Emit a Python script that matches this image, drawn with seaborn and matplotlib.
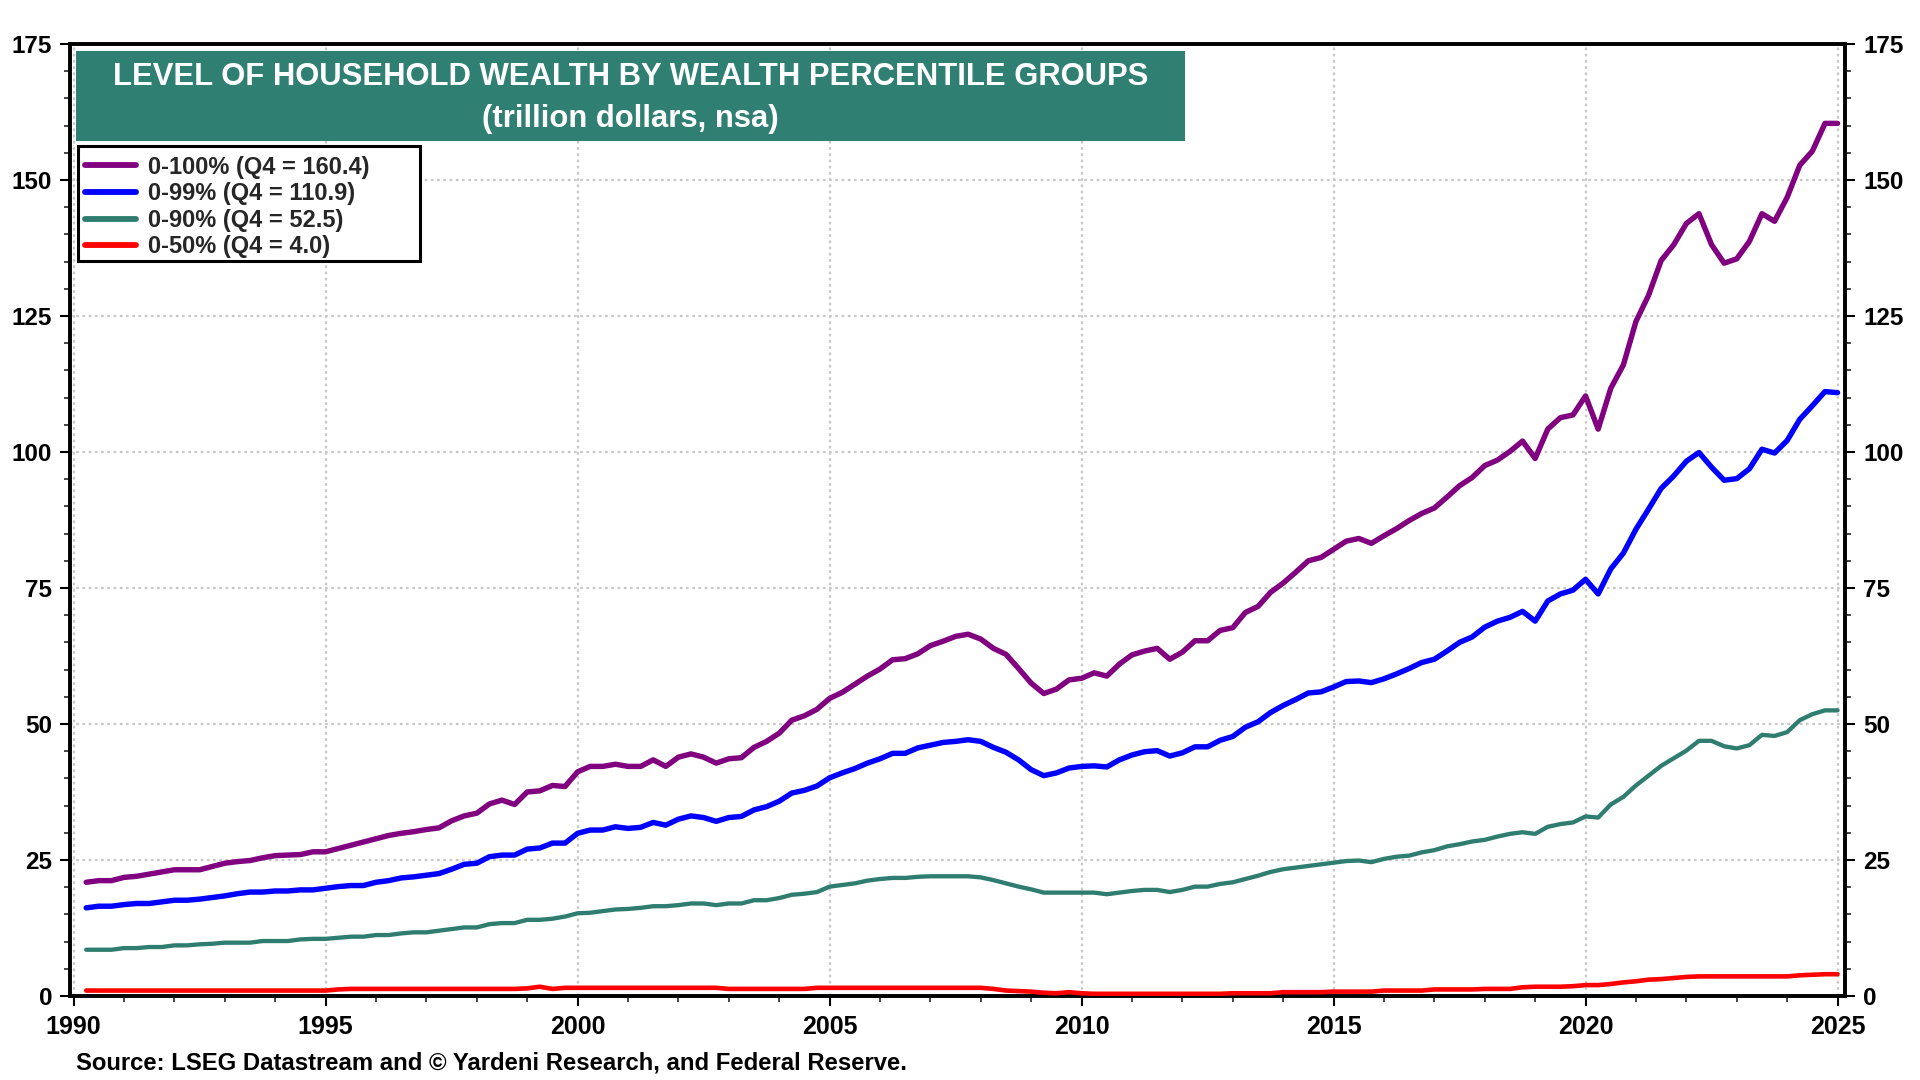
import numpy as np
import pandas as pd
import matplotlib
matplotlib.use("Agg")
import matplotlib.pyplot as plt
from matplotlib.patches import Rectangle
from matplotlib.ticker import MultipleLocator
import seaborn as sns

# ---------------- data (trillion dollars, quarterly 1990Q1 - 2024Q4) ----------------
quarters = pd.period_range("1990Q1", "2024Q4", freq="Q")

wealth_0_100 = [
    20.9, 21.2, 21.2, 21.8, 22.0, 22.4, 22.8, 23.2, 23.2, 23.2, 23.8, 24.4, 24.7, 24.9, 25.4, 25.8,
    25.9, 26.0, 26.5, 26.5, 27.1, 27.7, 28.3, 28.9, 29.5, 29.9, 30.2, 30.6, 30.9, 32.2, 33.1, 33.6,
    35.3, 36.0, 35.2, 37.5, 37.7, 38.7, 38.5, 41.2,
    42.2, 42.2, 42.6, 42.2, 42.2, 43.4, 42.2, 43.9, 44.5, 43.9, 42.8, 43.6, 43.8, 45.7, 46.8, 48.3,
    50.7, 51.5, 52.7, 54.7, 55.8, 57.3, 58.8, 60.1, 61.8, 62.0, 62.9, 64.4, 65.2, 66.1, 66.5, 65.6,
    63.9, 62.8, 60.2, 57.5, 55.6, 56.4, 58.1, 58.4,
    59.4, 58.8, 61.0, 62.7, 63.4, 63.9, 61.9, 63.2, 65.3, 65.3, 67.2, 67.7, 70.5, 71.6, 74.2, 75.9,
    77.9, 80.0, 80.6, 82.1, 83.6, 84.1, 83.2, 84.6, 85.9, 87.4, 88.7, 89.7, 91.7, 93.8, 95.3,
    97.5, 98.5, 100.1, 102.0, 98.8, 104.2, 106.3, 106.8, 110.3, 104.2, 111.7, 116.0, 124.0, 128.8,
    135.2, 138.1, 142.0, 143.8, 138.1, 134.7, 135.5, 138.7, 143.8, 142.4, 146.8, 152.7, 155.3,
    160.4, 160.4,
]

wealth_0_99 = [
    16.2, 16.5, 16.5, 16.8, 17.0, 17.0, 17.3, 17.6, 17.6, 17.8, 18.1, 18.4, 18.8, 19.1, 19.1, 19.3,
    19.3, 19.5, 19.5, 19.8, 20.1, 20.3, 20.3, 20.9, 21.2, 21.7, 21.9, 22.2, 22.5, 23.3, 24.2, 24.4,
    25.6, 25.9, 25.9, 27.0, 27.2, 28.1, 28.1, 29.9,
    30.5, 30.5, 31.1, 30.8, 31.0, 31.9, 31.4, 32.5, 33.1, 32.8, 32.1, 32.8, 33.0, 34.2, 34.8, 35.8,
    37.3, 37.8, 38.6, 40.1, 41.0, 41.8, 42.8, 43.6, 44.6, 44.6, 45.6, 46.1, 46.6, 46.8, 47.1, 46.8,
    45.7, 44.8, 43.4, 41.6, 40.5, 41.0, 41.9, 42.2,
    42.3, 42.1, 43.4, 44.3, 44.9, 45.1, 44.1, 44.7, 45.8, 45.8, 47.0, 47.7, 49.4, 50.4, 52.1, 53.4,
    54.5, 55.7, 55.9, 56.8, 57.8, 57.9, 57.6, 58.3, 59.2, 60.2, 61.3, 61.9, 63.4, 65.0, 66.0,
    67.8, 68.9, 69.6, 70.7, 68.9, 72.6, 73.9, 74.6, 76.6, 73.9, 78.5, 81.4, 85.8, 89.5, 93.3,
    95.6, 98.3, 99.9, 97.2, 94.8, 95.1, 96.9, 100.5, 99.8, 102.1, 106.0, 108.5, 111.1, 110.9,
]

wealth_0_90 = [
    8.5, 8.5, 8.5, 8.8, 8.8, 9.0, 9.0, 9.3, 9.3, 9.5, 9.6, 9.8, 9.8, 9.8, 10.1, 10.1,
    10.1, 10.4, 10.5, 10.5, 10.7, 10.9, 10.9, 11.2, 11.2, 11.5, 11.7, 11.7, 12.0, 12.3, 12.6, 12.6,
    13.2, 13.4, 13.4, 14.0, 14.0, 14.2, 14.6, 15.2,
    15.3, 15.6, 15.9, 16.0, 16.2, 16.5, 16.5, 16.7, 17.0, 17.0, 16.7, 17.0, 17.0, 17.6, 17.6, 18.0,
    18.6, 18.8, 19.1, 20.1, 20.4, 20.7, 21.2, 21.5, 21.7, 21.7, 21.9, 22.0, 22.0, 22.0, 22.0, 21.8,
    21.3, 20.7, 20.1, 19.6, 19.0, 19.0, 19.0, 19.0,
    19.0, 18.7, 19.0, 19.3, 19.5, 19.5, 19.1, 19.5, 20.1, 20.1, 20.6, 20.9, 21.5, 22.1, 22.8, 23.3,
    23.6, 23.9, 24.2, 24.5, 24.8, 24.9, 24.6, 25.2, 25.6, 25.8, 26.4, 26.8, 27.5, 27.9, 28.4,
    28.7, 29.3, 29.8, 30.1, 29.8, 31.1, 31.6, 31.9, 33.0, 32.8, 35.2, 36.6, 38.7, 40.5, 42.3,
    43.7, 45.1, 46.9, 46.9, 45.9, 45.5, 46.1, 48.0, 47.8, 48.5, 50.7, 51.8, 52.5, 52.5,
]

wealth_0_50 = [
    1.0, 1.0, 1.0, 1.0, 1.0, 1.0, 1.0, 1.0, 1.0, 1.0, 1.0, 1.0, 1.0, 1.0, 1.0, 1.0,
    1.0, 1.0, 1.0, 1.0, 1.2, 1.3, 1.3, 1.3, 1.3, 1.3, 1.3, 1.3, 1.3, 1.3, 1.3, 1.3,
    1.3, 1.3, 1.3, 1.4, 1.7, 1.3, 1.5, 1.5,
    1.5, 1.5, 1.5, 1.5, 1.5, 1.5, 1.5, 1.5, 1.5, 1.5, 1.5, 1.3, 1.3, 1.3, 1.3, 1.3,
    1.3, 1.3, 1.5, 1.5, 1.5, 1.5, 1.5, 1.5, 1.5, 1.5, 1.5, 1.5, 1.5, 1.5, 1.5, 1.5,
    1.3, 1.0, 0.9, 0.8, 0.6, 0.5, 0.7, 0.5,
    0.4, 0.4, 0.4, 0.4, 0.4, 0.4, 0.4, 0.4, 0.4, 0.4, 0.4, 0.5, 0.5, 0.5, 0.5, 0.7,
    0.7, 0.7, 0.7, 0.8, 0.8, 0.8, 0.8, 1.0, 1.0, 1.0, 1.0, 1.2, 1.2, 1.2, 1.2,
    1.3, 1.3, 1.3, 1.6, 1.7, 1.7, 1.7, 1.8, 2.0, 2.0, 2.2, 2.5, 2.7, 3.0, 3.1,
    3.3, 3.5, 3.6, 3.6, 3.6, 3.6, 3.6, 3.6, 3.6, 3.6, 3.8, 3.9, 4.0, 4.0,
]

series_names = ["0-100% (Q4 = 160.4)", "0-99% (Q4 = 110.9)", "0-90% (Q4 = 52.5)", "0-50% (Q4 = 4.0)"]
series_colors = ["#800080", "#0000FF", "#2E7D70", "#FF0000"]
series_widths = [3.9, 3.9, 3.1, 3.3]

title_lines = ["LEVEL OF HOUSEHOLD WEALTH BY WEALTH PERCENTILE GROUPS", "(trillion dollars, nsa)"]
source_text = "Source: LSEG Datastream and \u00a9 Yardeni Research, and Federal Reserve."

# x position: end of each quarter as decimal year
xq = np.asarray(quarters.year + quarters.quarter / 4.0, dtype=float)

frames = []
for name, vals in zip(series_names, [wealth_0_100, wealth_0_99, wealth_0_90, wealth_0_50]):
    frames.append(pd.DataFrame({"date": xq, "value": vals, "series": name}))
df = pd.concat(frames, ignore_index=True)

# ---------------- style ----------------
sns.set_theme(style="white")
plt.rcParams["font.family"] = ["Liberation Sans", "DejaVu Sans"]
plt.rcParams["font.weight"] = "bold"

fig = plt.figure(figsize=(19.2, 10.8), dpi=100)
ax = fig.add_axes([0.0365, 0.0778, 0.9245, 0.8815])

for name, col, lw in zip(series_names, series_colors, series_widths):
    sub = df[df["series"] == name]
    sns.lineplot(data=sub, x="date", y="value", ax=ax, color=col, linewidth=lw,
                 label=name, legend=False, zorder=3)

ax.set_xlim(1989.93, 2025.15)
ax.set_ylim(0, 175)
ax.set_xlabel("")
ax.set_ylabel("")

ax.xaxis.set_minor_locator(MultipleLocator(1))
ax.yaxis.set_major_locator(MultipleLocator(25))
ax.yaxis.set_minor_locator(MultipleLocator(5))
ax.set_xticks(range(1990, 2026, 5))
ax.set_xticklabels([str(y) for y in range(1990, 2026, 5)])

ax.grid(True, which="major", color="#C8C8C8", linestyle=(0, (1.2, 1.6)), linewidth=1.6, zorder=0)

ax.tick_params(axis="y", which="major", direction="out", length=7, width=1.5,
               left=True, right=True, labelleft=True, labelright=True,
               labelsize=17.5, pad=6, colors="black")
ax.tick_params(axis="y", which="minor", direction="out", length=4, width=1.2,
               left=True, right=True)
ax.tick_params(axis="x", which="major", direction="out", length=7, width=1.5,
               bottom=True, top=False, labelsize=18, pad=7, colors="black")
ax.tick_params(axis="x", which="minor", direction="out", length=4, width=1.2,
               bottom=True, top=False)
for lab in ax.get_xticklabels() + ax.get_yticklabels():
    lab.set_fontweight("bold")

for sp in ax.spines.values():
    sp.set_visible(True)
    sp.set_color("black")
    sp.set_linewidth(2.8)

# title box
ax.add_patch(Rectangle((0.0034, 0.898), 0.6246, 0.0946, transform=ax.transAxes,
                       facecolor="#2F7F73", edgecolor="none", zorder=5))
ax.text(0.3157, 0.965, title_lines[0], transform=ax.transAxes, ha="center", va="center",
        color="white", fontsize=22.3, fontweight="bold", zorder=6)
ax.text(0.3157, 0.921, title_lines[1], transform=ax.transAxes, ha="center", va="center",
        color="white", fontsize=22.3, fontweight="bold", zorder=6)

# legend frame (drawn as a box) and legend entries
ax.add_patch(Rectangle((0.0045, 0.772), 0.1927, 0.121, transform=ax.transAxes,
                       facecolor="white", edgecolor="black", linewidth=2.2, zorder=5.5))
leg = ax.legend(loc="upper left", bbox_to_anchor=(0.0045, 0.890), frameon=False,
                prop={"weight": "bold", "size": 17},
                handlelength=2.15, handletextpad=0.5, labelspacing=0.15, borderpad=0.3,
                borderaxespad=0.0)
leg.set_zorder(6)
for h in leg.get_lines():
    h.set_linewidth(4.2)

fig.text(0.0396, 0.016, source_text, ha="left", va="center", fontsize=17.2, fontweight="bold",
         color="black")

fig.savefig("out.png", dpi=100, facecolor="white")
